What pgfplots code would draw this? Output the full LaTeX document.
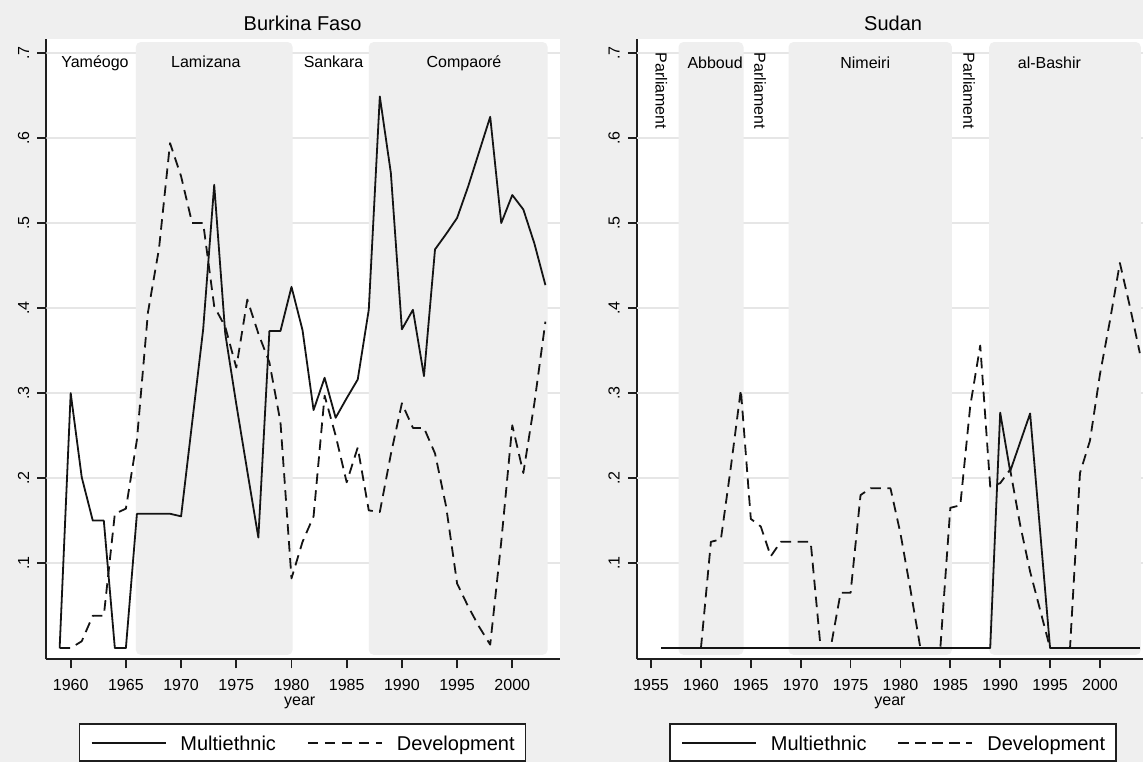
\documentclass[border=0pt]{standalone}
\usepackage{fontspec}
\setmainfont{Liberation Sans}
\usepackage{pgfplots}
\pgfplotsset{compat=1.18}
\definecolor{bgc}{RGB}{239,239,239}
\definecolor{boxc}{RGB}{239,239,239}
\definecolor{gridc}{RGB}{230,230,230}
\definecolor{linec}{RGB}{20,20,20}
\newcommand{\fs}[1]{\fontsize{#1bp}{#1bp}\selectfont}
\pgfplotsset{
  panel/.style={
    scale only axis, width=513.8bp, height=620bp,
    ymin=-0.0132, ymax=0.7162,
    axis x line*=bottom, axis y line*=left,
    axis line style={-, line width=1.8bp, draw=black!88},
    every outer x axis line/.append style={-},
    every outer y axis line/.append style={-},
    tick align=outside, major tick length=9bp,
    major tick style={line width=1.8bp, draw=black!88},
    axis background/.style={fill=white},
    ytick={0.1,0.2,0.3,0.4,0.5,0.6,0.7},
    yticklabels={.1,.2,.3,.4,.5,.6,.7},
    yticklabel style={rotate=90, anchor=south, inner sep=0pt, text depth=8bp, font=\fs{16}},
    xticklabel style={anchor=north, inner sep=0pt, font=\fs{16}},
    xticklabel shift=11bp,
    minor tick num=0,
    legend columns=2,
    legend image code/.code={\draw[##1] (0bp,7bp) -- (74bp,7bp);},
    legend style={draw=black!88, line width=1.5bp, fill=white, font=\fs{20},
      inner xsep=11bp, inner ysep=11bp,
      nodes={inner sep=0pt, text height=15bp, text depth=0pt, anchor=base},
      /tikz/every odd column/.append style={column sep=14bp},
      /tikz/every even column/.append style={column sep=31bp}},
  },
  sol/.style={linec, line width=1.8bp, line join=round},
  das/.style={linec, line width=1.8bp, line join=round, dash pattern=on 10.5bp off 6.5bp},
}
\begin{document}
\begin{tikzpicture}
\fill[bgc] (0,0) rectangle (1143bp,762bp);
\node[font=\fs{20}, anchor=base] at (302.6bp,731bp) {Burkina Faso};
\node[font=\fs{20}, anchor=base] at (893.1bp,731bp) {Sudan};
\node[font=\fs{16}, anchor=base, inner sep=0pt] at (299.7bp,56bp) {year};
\node[font=\fs{16}, anchor=base, inner sep=0pt] at (890bp,56bp) {year};
% ---------------- Burkina Faso
\begin{axis}[panel, at={(46.4bp,102.7bp)}, anchor=south west,
  xmin=1957.8, xmax=2004.34,
  xtick={1960,1965,1970,1975,1980,1985,1990,1995,2000},
  xticklabels={1960,1965,1970,1975,1980,1985,1990,1995,2000},
  legend style={at={(0.4987,-0.1032)}, anchor=north}]
\foreach \g in {0.1,0.2,0.3,0.4,0.5,0.6,0.7}{
  \edef\tmp{\noexpand\draw[gridc, line width=1.5bp] (axis cs:1957.8,\g) -- (axis cs:2004.34,\g);}\tmp}
\fill[boxc, rounded corners=5bp] (axis cs:1965.9,-0.008) rectangle (axis cs:1980.1,0.713);
\fill[boxc, rounded corners=5bp] (axis cs:1987.0,-0.008) rectangle (axis cs:2003.2,0.713);
\node[font=\fs{16}, anchor=base, inner sep=0pt] at (axis cs:1962.2,0.6833) {Yaméogo};
\node[font=\fs{16}, anchor=base, inner sep=0pt] at (axis cs:1972.24,0.6833) {Lamizana};
\node[font=\fs{16}, anchor=base, inner sep=0pt] at (axis cs:1983.81,0.6833) {Sankara};
\node[font=\fs{16}, anchor=base, inner sep=0pt] at (axis cs:1995.63,0.6833) {Compaoré};
\addplot[sol] table {
1959 0
1960 0.300
1961 0.201
1962 0.150
1963 0.150
1964 0.000
1965 0.000
1966 0.158
1967 0.158
1968 0.158
1969 0.158
1970 0.155
1971 0.265
1972 0.375
1973 0.545
1974 0.370
1975 0.287
1976 0.208
1977 0.130
1978 0.373
1979 0.373
1980 0.425
1981 0.374
1982 0.280
1983 0.318
1984 0.271
1985 0.294
1986 0.316
1987 0.398
1988 0.649
1989 0.559
1990 0.375
1991 0.398
1992 0.320
1993 0.469
1994 0.487
1995 0.506
1996 0.543
1997 0.584
1998 0.625
1999 0.500
2000 0.533
2001 0.516
2002 0.476
2003 0.427
};
\addlegendentry{Multiethnic}
\addplot[das] table {
1959 0
1960 0
1961 0.008
1962 0.038
1963 0.038
1964 0.158
1965 0.164
1966 0.245
1967 0.395
1968 0.470
1969 0.594
1970 0.555
1971 0.500
1972 0.500
1973 0.402
1974 0.378
1975 0.330
1976 0.410
1977 0.370
1978 0.336
1979 0.266
1980 0.082
1981 0.125
1982 0.155
1983 0.297
1984 0.250
1985 0.195
1986 0.236
1987 0.162
1988 0.160
1989 0.228
1990 0.288
1991 0.259
1992 0.259
1993 0.229
1994 0.167
1995 0.076
1996 0.049
1997 0.025
1998 0.004
1999 0.125
2000 0.262
2001 0.206
2002 0.288
2003 0.384
};
\addlegendentry{Development}
\end{axis}
% ---------------- Sudan
\begin{axis}[panel, at={(636.9bp,102.7bp)}, anchor=south west,
  xmin=1953.58, xmax=2005.09,
  xtick={1955,1960,1965,1970,1975,1980,1985,1990,1995,2000},
  xticklabels={1955,1960,1965,1970,1975,1980,1985,1990,1995,2000},
  legend style={at={(0.4987,-0.1032)}, anchor=north}]
\foreach \g in {0.1,0.2,0.3,0.4,0.5,0.6,0.7}{
  \edef\tmp{\noexpand\draw[gridc, line width=1.5bp] (axis cs:1953.58,\g) -- (axis cs:2005.09,\g);}\tmp}
\fill[boxc, rounded corners=5bp] (axis cs:1957.75,-0.008) rectangle (axis cs:1964.27,0.713);
\fill[boxc, rounded corners=5bp] (axis cs:1968.78,-0.008) rectangle (axis cs:1985.16,0.713);
\fill[boxc, rounded corners=5bp] (axis cs:1988.9,-0.008) rectangle (axis cs:2004.1,0.713);
\node[font=\fs{16}, anchor=west, rotate=-90, inner sep=0pt] at (axis cs:1956.03,0.7007) {Parliament};
\node[font=\fs{16}, anchor=west, rotate=-90, inner sep=0pt] at (axis cs:1965.93,0.7007) {Parliament};
\node[font=\fs{16}, anchor=west, rotate=-90, inner sep=0pt] at (axis cs:1986.88,0.7007) {Parliament};
\node[font=\fs{16}, anchor=base, inner sep=0pt] at (axis cs:1961.42,0.682) {Abboud};
\node[font=\fs{16}, anchor=base, inner sep=0pt] at (axis cs:1976.47,0.682) {Nimeiri};
\node[font=\fs{16}, anchor=base, inner sep=0pt] at (axis cs:1994.94,0.682) {al-Bashir};
\addplot[sol] table {
1956 0
1957 0
1958 0
1959 0
1960 0
1961 0
1962 0
1963 0
1964 0
1965 0
1966 0
1967 0
1968 0
1969 0
1970 0
1971 0
1972 0
1973 0
1974 0
1975 0
1976 0
1977 0
1978 0
1979 0
1980 0
1981 0
1982 0
1983 0
1984 0
1985 0
1986 0
1987 0
1988 0
1989 0
1990 0.277
1991 0.208
1992 0.242
1993 0.276
1994 0.138
1995 0
1996 0
1997 0
1998 0
1999 0
2000 0
2001 0
2002 0
2003 0
2004 0
};
\addlegendentry{Multiethnic}
\addplot[das] table {
1960 0
1961 0.125
1962 0.128
1963 0.213
1964 0.304
1965 0.152
1966 0.143
1967 0.108
1968 0.125
1969 0.125
1970 0.125
1971 0.125
1972 0
1973 0
1974 0.065
1975 0.065
1976 0.180
1977 0.188
1978 0.188
1979 0.188
1980 0.135
1981 0.069
1982 0
1983 0
1984 0
1985 0.165
1986 0.168
1987 0.285
1988 0.356
1989 0.190
1990 0.194
1991 0.210
1992 0.145
1993 0.090
1994 0.045
1995 0
1996 0
1997 0
1998 0.206
1999 0.244
2000 0.322
2001 0.385
2002 0.453
2003 0.402
2004 0.347
};
\addlegendentry{Development}
\end{axis}
\pgfresetboundingbox
\useasboundingbox (0,0) rectangle (1143bp,762bp);
\end{tikzpicture}
\end{document}
